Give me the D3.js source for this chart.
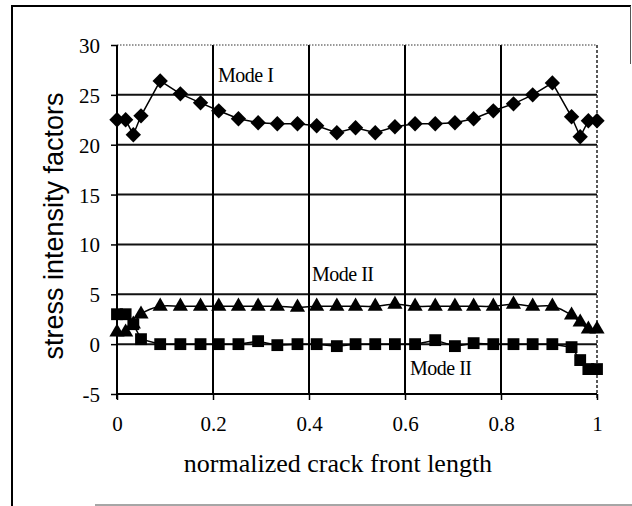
<!DOCTYPE html>
<html>
<head>
<meta charset="utf-8">
<script src="https://cdn.jsdelivr.net/npm/d3@7"></script>
<style>
  body { margin: 0; background: #fff; }
</style>
</head>
<body>
<div id="chart"></div>
<script>
// chart data
var crackPos = [0, 0.018, 0.034, 0.05, 0.09, 0.132, 0.174, 0.212, 0.253, 0.294, 0.334, 0.376, 0.416, 0.458,
    0.497, 0.538, 0.579, 0.621, 0.663, 0.704, 0.743, 0.784, 0.826, 0.866, 0.907, 0.947, 0.965, 0.982, 1.0];
var modeI = [22.5, 22.5, 21.0, 22.9, 26.4, 25.1, 24.2, 23.4, 22.6, 22.2, 22.1, 22.1, 21.9, 21.2,
    21.7, 21.2, 21.8, 22.1, 22.1, 22.2, 22.6, 23.4, 24.1, 25.0, 26.2, 22.8, 20.8, 22.4, 22.4];
var modeTri = [1.2, 1.2, 2.0, 3.0, 3.8, 3.8, 3.8, 3.8, 3.8, 3.8, 3.8, 3.7, 3.8, 3.8,
    3.8, 3.8, 4.0, 3.8, 3.8, 3.8, 3.8, 3.8, 4.0, 3.8, 3.8, 2.9, 2.2, 1.5, 1.5];
var modeSq = [3.0, 3.0, 2.0, 0.5, 0.0, 0.0, 0.0, 0.0, 0.0, 0.3, -0.1, 0.0, 0.0, -0.2,
    0.0, 0.0, 0.0, 0.0, 0.4, -0.2, 0.1, 0.0, 0.0, 0.0, 0.0, -0.3, -1.6, -2.5, -2.5];
var xTicks = [0, 0.2, 0.4, 0.6, 0.8, 1];
var yTicks = [-5, 0, 5, 10, 15, 20, 25, 30];
var xTickLabels = ["0", "0.2", "0.4", "0.6", "0.8", "1"];
var yTickLabels = ["-5", "0", "5", "10", "15", "20", "25", "30"];

var svgWidth = 632;
var svgHeight = 506;
var margin = {top: 45, right: 35, bottom: 112, left: 117};
var width = svgWidth - margin.left - margin.right;
var height = svgHeight - margin.top - margin.bottom;
var serif = '"Liberation Serif", "Times New Roman", serif';

var svg = d3.select("#chart")
    .append("svg")
    .attr("width", svgWidth)
    .attr("height", svgHeight);

// scanned page frame
var frame = svg.append("g").attr("stroke", "#000").attr("fill", "none");
frame.append("line").attr("x1", 12).attr("y1", 6).attr("x2", 12).attr("y2", 506).attr("stroke-width", 2);
frame.append("line").attr("x1", 11).attr("y1", 6).attr("x2", 631).attr("y2", 6).attr("stroke-width", 2);
frame.append("line").attr("x1", 630.5).attr("y1", 6).attr("x2", 630.5).attr("y2", 64).attr("stroke-width", 1).attr("stroke", "#555");
frame.append("line").attr("x1", 95).attr("y1", 505).attr("x2", 632).attr("y2", 505).attr("stroke-width", 1.5).attr("stroke", "#888");

var chartGroup = svg.append("g")
    .attr("transform", `translate(${margin.left}, ${margin.top})`);

var xScale = d3.scaleLinear().domain([0, 1]).range([0, width]);
var yScale = d3.scaleLinear().domain([-5, 30]).range([height, 0]);

// gridlines
chartGroup.append("g")
    .selectAll("line")
    .data(yTicks.filter(d => d > -5 && d < 30))
    .enter()
    .append("line")
    .attr("x1", 0).attr("x2", width)
    .attr("y1", d => yScale(d)).attr("y2", d => yScale(d))
    .attr("stroke", "#111").attr("stroke-width", 2);

chartGroup.append("g")
    .selectAll("line")
    .data(xTicks.filter(d => d > 0 && d < 1))
    .enter()
    .append("line")
    .attr("x1", d => xScale(d)).attr("x2", d => xScale(d))
    .attr("y1", 0).attr("y2", height)
    .attr("stroke", "#000").attr("stroke-width", 2);

// plot border: dotted top and right
chartGroup.append("line")
    .attr("x1", 0).attr("x2", width).attr("y1", 0).attr("y2", 0)
    .attr("stroke", "#333").attr("stroke-width", 1.2).attr("stroke-dasharray", "1.5,1.5");
chartGroup.append("line")
    .attr("x1", width).attr("x2", width).attr("y1", 0).attr("y2", height + 5)
    .attr("stroke", "#222").attr("stroke-width", 1.5).attr("stroke-dasharray", "3,2");

// axes
var leftAxis = d3.axisLeft(yScale).tickValues(yTicks).tickSize(6).tickPadding(11)
    .tickFormat((d, i) => yTickLabels[i]);
var bottomAxis = d3.axisBottom(xScale).tickValues(xTicks).tickSize(6).tickPadding(16)
    .tickFormat((d, i) => xTickLabels[i]);

var yAxis = chartGroup.append("g").call(leftAxis);
yAxis.select(".domain").attr("stroke-width", 2).attr("d", `M0,0V${height + 5}`);
yAxis.selectAll(".tick line").attr("stroke-width", 1.5);
yAxis.selectAll(".tick text").attr("dy", "0.36em");

var xAxis = chartGroup.append("g")
    .attr("transform", `translate(0, ${height})`)
    .call(bottomAxis);
xAxis.select(".domain").attr("stroke-width", 2).attr("d", `M0,0H${width}`);
xAxis.selectAll(".tick line").attr("stroke-width", 1.5);

chartGroup.selectAll(".tick text")
    .style("font-family", serif)
    .style("font-size", "21px")
    .attr("fill", "#000");

// series lines
function series(values, curve) {
    return d3.line()
        .x((d, i) => xScale(crackPos[i]))
        .y(d => yScale(d))
        .curve(curve)(values);
}

chartGroup.append("path").attr("d", series(modeI, d3.curveLinear))
    .attr("fill", "none").attr("stroke", "#000").attr("stroke-width", 1.5);
chartGroup.append("path").attr("d", series(modeTri, d3.curveCatmullRom))
    .attr("fill", "none").attr("stroke", "#000").attr("stroke-width", 1.5);
chartGroup.append("path").attr("d", series(modeSq, d3.curveLinear))
    .attr("fill", "none").attr("stroke", "#000").attr("stroke-width", 1.5);

// markers
var diamond = d3.symbol().type(d3.symbolDiamond2).size(150);
var triangle = d3.symbol().type(d3.symbolTriangle).size(100);
var square = d3.symbol().type(d3.symbolSquare).size(140);

chartGroup.append("g").selectAll("path")
    .data(modeI)
    .enter()
    .append("path")
    .attr("d", diamond)
    .attr("transform", (d, i) => `translate(${xScale(crackPos[i])}, ${yScale(d)})`)
    .attr("fill", "#000");

chartGroup.append("g").selectAll("path")
    .data(modeTri)
    .enter()
    .append("path")
    .attr("d", triangle)
    .attr("transform", (d, i) => `translate(${xScale(crackPos[i])}, ${yScale(d)})`)
    .attr("fill", "#000");

chartGroup.append("g").selectAll("path")
    .data(modeSq)
    .enter()
    .append("path")
    .attr("d", square)
    .attr("transform", (d, i) => `translate(${xScale(crackPos[i])}, ${yScale(d)})`)
    .attr("fill", "#000");

// series labels
var labels = [
    {text: "Mode I", x: 218, y: 82},
    {text: "Mode II", x: 312, y: 281},
    {text: "Mode II", x: 410, y: 375}
];
svg.append("g").selectAll("text")
    .data(labels)
    .enter()
    .append("text")
    .attr("x", d => d.x)
    .attr("y", d => d.y)
    .style("font-family", serif)
    .style("font-size", "20px")
    .style("letter-spacing", "-0.5px")
    .text(d => d.text);

// axis titles
svg.append("text")
    .attr("x", 338)
    .attr("y", 472)
    .attr("text-anchor", "middle")
    .style("font-family", serif)
    .style("font-size", "26px")
    .text("normalized crack front length");

svg.append("text")
    .attr("transform", "translate(63, 226) rotate(-90)")
    .attr("text-anchor", "middle")
    .style("font-family", '"Liberation Sans", Arial, sans-serif')
    .style("font-size", "27px")
    .text("stress intensity factors");
</script>
</body>
</html>
